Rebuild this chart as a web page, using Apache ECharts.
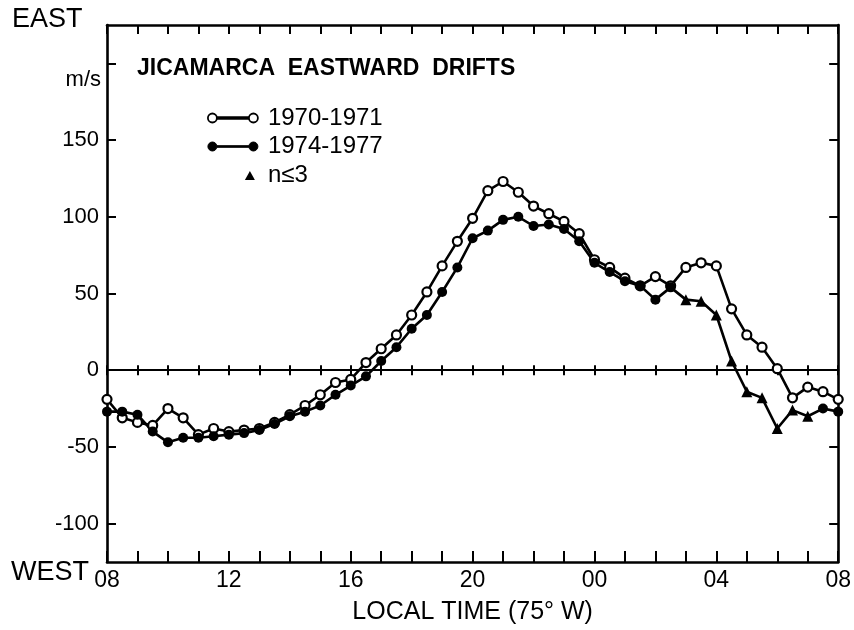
<!DOCTYPE html>
<html>
<head>
<meta charset="utf-8">
<script src="https://cdn.jsdelivr.net/npm/echarts@6/dist/echarts.min.js"></script>
<style>
  html, body { margin: 0; background: #fff; }
  #chart { width: 854px; height: 630px; }
</style>
</head>
<body>
<div id="chart"></div>
<script>
// hours after 08 LT (75°W), half-hour steps
const hours = [0, 0.5, 1, 1.5, 2, 2.5, 3, 3.5, 4, 4.5, 5, 5.5, 6, 6.5, 7, 7.5, 8, 8.5, 9, 9.5,
  10, 10.5, 11, 11.5, 12, 12.5, 13, 13.5, 14, 14.5, 15, 15.5, 16, 16.5, 17, 17.5, 18, 18.5, 19, 19.5,
  20, 20.5, 21, 21.5, 22, 22.5, 23, 23.5, 24]

// eastward drift m/s
const drift7071 = [-19, -31, -34, -36, -25, -31, -42, -38, -40, -39, -38, -34, -29, -23, -16, -8, -6, 5, 14, 23,
  36, 51, 68, 84, 99, 117, 123, 116, 107, 102, 97, 89, 72, 67, 60, 55, 61, 55, 67, 70,
  68, 40, 23, 15, 1, -18, -11, -14, -19]
const drift7477 = [-27, -27, -29, -40, -47, -44, -44, -43, -42, -41, -39, -35, -30, -27, -23, -16, -10, -4, 6, 15,
  27, 36, 51, 67, 86, 91, 98, 100, 94, 95, 92, 84, 70, 64, 58, 55, 46, 54, 46, 45,
  36, 6, -14, -18, -38, -26, -30, -25, -27]

// 1974-1977 hours with n<=3 (triangles)
const fewHours = [19, 19.5, 20, 20.5, 21, 21.5, 22, 22.5, 23]

const xTickLabels = ['08', '12', '16', '20', '00', '04', '08']
const yTicks = [-100, -50, 0, 50, 100, 150, 200]
const yLabels = [-100, -50, 0, 50, 100, 150]

const font = 'Liberation Sans'

const openIcon = 'path://M0,0M55,10M0,5a4.5,4.5 0 1,0 9,0a4.5,4.5 0 1,0 -9,0zM9,4.2h32v1.6h-32zM41,5a4.5,4.5 0 1,0 9,0a4.5,4.5 0 1,0 -9,0z'
const triIcon = 'path://M0,0M55,10M37,10L42,1L47,10z'

let data7071 = hours.map((h, i) => [h, drift7071[i]])
let data7477 = hours.map((h, i) => {
  if (fewHours.indexOf(h) >= 0) {
    return { value: [h, drift7477[i]], symbol: 'none' }
  }
  return [h, drift7477[i]]
})
let dataFew = fewHours.map(h => [h, drift7477[hours.indexOf(h)]])

let blackLine = { color: '#000', width: 2.6 }
let tickStyle = { color: '#000', width: 2 }

function timeAxis(extra) {
  return Object.assign({
    type: 'value',
    min: 0,
    max: 24,
    interval: 4,
    gridIndex: 0,
    axisLine: { onZero: false, lineStyle: blackLine },
    axisTick: { inside: true, length: 9, lineStyle: tickStyle },
    minorTick: { show: true, splitNumber: 4, length: 9, lineStyle: tickStyle },
    axisLabel: { show: false },
    splitLine: { show: false }
  }, extra)
}

let chart = echarts.init(document.getElementById('chart'))

chart.setOption({
  animation: false,
  title: {
    text: 'JICAMARCA  EASTWARD  DRIFTS',
    left: 137,
    top: 57,
    padding: 0,
    textStyle: { fontFamily: font, fontSize: 23, fontWeight: 'bold', color: '#000' }
  },
  legend: {
    orient: 'vertical',
    left: 207,
    top: 106,
    padding: 0,
    itemWidth: 55,
    itemHeight: 10,
    itemGap: 4.5,
    selectedMode: false,
    textStyle: { fontFamily: font, fontSize: 24, color: '#000' },
    data: [
      { name: '1970-1971', icon: openIcon, itemStyle: { color: '#fff', borderColor: '#000', borderWidth: 1.8 } },
      { name: '1974-1977', icon: openIcon, itemStyle: { color: '#000', borderColor: '#000', borderWidth: 1 } },
      { name: 'n≤3', icon: triIcon, itemStyle: { color: '#000', borderWidth: 0 } }
    ]
  },
  grid: { left: 107, right: 15, top: 25, bottom: 67 },
  xAxis: [
    timeAxis({
      position: 'bottom',
      axisTick: { inside: true, length: 11, lineStyle: tickStyle },
      minorTick: { show: true, splitNumber: 4, length: 11, lineStyle: tickStyle },
      axisLabel: {
        fontFamily: font,
        fontSize: 23,
        color: '#000',
        margin: 7,
        formatter: v => xTickLabels[v / 4]
      },
      name: 'LOCAL TIME (75° W)',
      nameLocation: 'middle',
      nameGap: 38,
      nameTextStyle: { fontFamily: font, fontSize: 25, color: '#000' }
    }),
    timeAxis({ position: 'top' }),
    // zero line, ticks up and down
    timeAxis({
      position: 'bottom',
      axisLine: { onZero: true, onZeroAxisIndex: 0, lineStyle: { color: '#000', width: 2.2 } },
      axisTick: { inside: true, length: 5, lineStyle: tickStyle },
      minorTick: { show: true, splitNumber: 4, length: 5, lineStyle: tickStyle }
    }),
    timeAxis({
      position: 'bottom',
      axisLine: { onZero: true, onZeroAxisIndex: 0, lineStyle: { color: '#000', width: 2.2 } },
      axisTick: { inside: false, length: 5, lineStyle: tickStyle },
      minorTick: { show: true, splitNumber: 4, length: 5, lineStyle: tickStyle }
    })
  ],
  yAxis: [
    {
      type: 'value',
      min: -125,
      max: 225,
      position: 'left',
      axisLine: { onZero: false, lineStyle: blackLine },
      axisTick: { inside: true, length: 9, customValues: yTicks, lineStyle: tickStyle },
      axisLabel: { customValues: yLabels, fontFamily: font, fontSize: 22, color: '#000', margin: 8 },
      splitLine: { show: false }
    },
    {
      type: 'value',
      min: -125,
      max: 225,
      position: 'right',
      axisLine: { onZero: false, lineStyle: blackLine },
      axisTick: { inside: true, length: 9, customValues: yTicks, lineStyle: tickStyle },
      axisLabel: { show: false },
      splitLine: { show: false }
    }
  ],
  graphic: [
    { type: 'text', x: 12, y: 20, style: { text: 'EAST', fontFamily: font, fontSize: 27, fill: '#000', verticalAlign: 'middle' } },
    { type: 'text', x: 11, y: 573, style: { text: 'WEST', fontFamily: font, fontSize: 27, fill: '#000', verticalAlign: 'middle' } },
    { type: 'text', x: 101, y: 80, style: { text: 'm/s', fontFamily: font, fontSize: 22, fill: '#000', align: 'right', verticalAlign: 'middle' } }
  ],
  series: [
    {
      name: '1970-1971',
      type: 'line',
      data: data7071,
      symbol: 'circle',
      symbolSize: 9,
      lineStyle: { color: '#000', width: 2.6 },
      itemStyle: { color: '#fff', borderColor: '#000', borderWidth: 2.2 }
    },
    {
      name: '1974-1977',
      type: 'line',
      data: data7477,
      symbol: 'circle',
      symbolSize: 10,
      lineStyle: { color: '#000', width: 2.6 },
      itemStyle: { color: '#000' }
    },
    {
      name: 'n≤3',
      type: 'scatter',
      data: dataFew,
      symbol: 'triangle',
      symbolSize: 11,
      itemStyle: { color: '#000', opacity: 1 }
    }
  ]
})
</script>
</body>
</html>
